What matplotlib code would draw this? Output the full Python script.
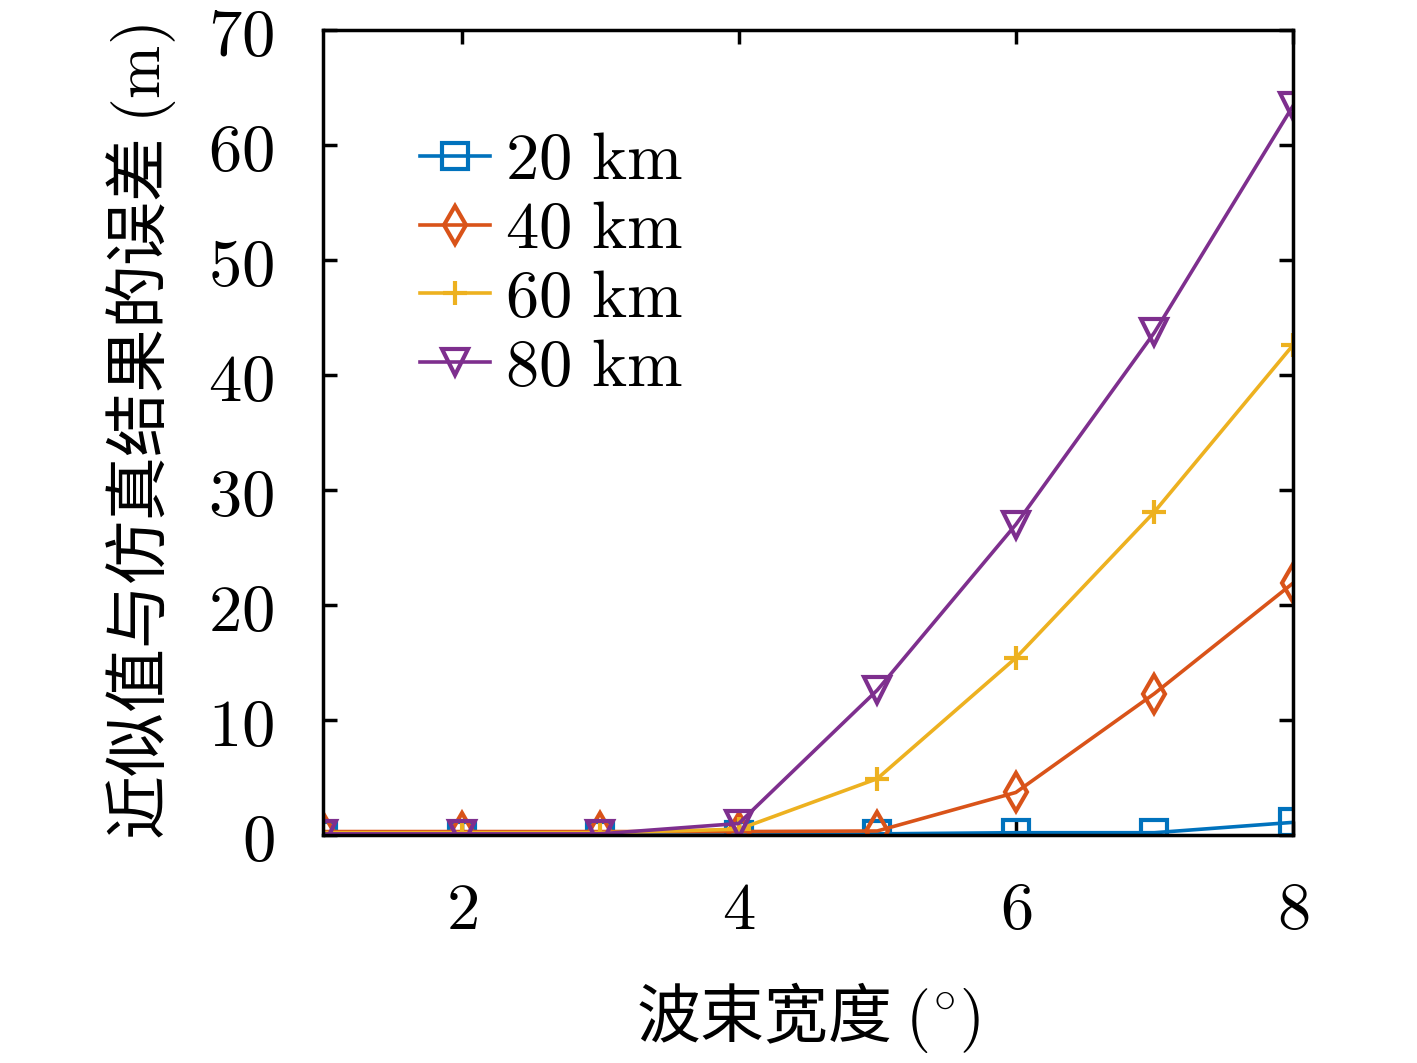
import matplotlib.pyplot as plt
from matplotlib.ticker import FuncFormatter

plt.rcParams['mathtext.fontset'] = 'cm'
plt.rcParams['font.family'] = ['Noto Sans CJK SC', 'DejaVu Sans']

beam_width = [1, 2, 3, 4, 5, 6, 7, 8]
err_20km = [0.0, 0.0, 0.0, 0.0, 0.1, 0.2, 0.2, 1.1]
err_40km = [0.3, 0.3, 0.3, 0.3, 0.35, 3.7, 12.3, 21.9]
err_60km = [0.2, 0.2, 0.2, 0.5, 4.9, 15.4, 28.1, 42.6]
err_80km = [0.1, 0.1, 0.1, 1.0, 12.6, 27.0, 43.7, 63.4]
labels = ['$20\\ \\mathrm{km}$', '$40\\ \\mathrm{km}$', '$60\\ \\mathrm{km}$', '$80\\ \\mathrm{km}$']

colors = ['#0072BD', '#D95319', '#EDB120', '#7E2F8E']
markers = ['s', 'd', '+', 'v']
series = [err_20km, err_40km, err_60km, err_80km]

fig = plt.figure(figsize=(14.17, 10.63), dpi=100)
ax = fig.add_axes([323 / 1417, 1 - 835 / 1063, 970 / 1417, 805 / 1063])

for y, lab, c, m in zip(series, labels, colors, markers):
    ax.plot(beam_width, y, color=c, marker=m, markersize=19 if m != '+' else 17,
            markerfacecolor='none', markeredgewidth=3, linewidth=2.6, label=lab)

ax.set_xlim(1, 8)
ax.set_ylim(0, 70)
ax.set_xticks([2, 4, 6, 8])
ax.set_yticks(range(0, 71, 10))
fmt = FuncFormatter(lambda v, p: '$%d$' % v)
ax.xaxis.set_major_formatter(fmt)
ax.yaxis.set_major_formatter(fmt)
ax.tick_params(direction='in', length=10, width=2.5, labelsize=48, top=True, right=True)
ax.tick_params(axis='x', pad=30)
ax.tick_params(axis='y', pad=35)
for s in ax.spines.values():
    s.set_linewidth(2.5)

ax.set_xlabel('波束宽度 $(^{\\circ})$', fontsize=46, labelpad=26)
ax.set_ylabel('近似值与仿真结果的误差 $(\\mathrm{m})$', fontsize=46, labelpad=22)

leg = ax.legend(loc='upper left', bbox_to_anchor=(0.1, 0.88), frameon=False, fontsize=48,
                handlelength=1.05, handletextpad=0.22, labelspacing=0.02,
                borderaxespad=0, borderpad=0)

fig.savefig('out.png', dpi=100)
